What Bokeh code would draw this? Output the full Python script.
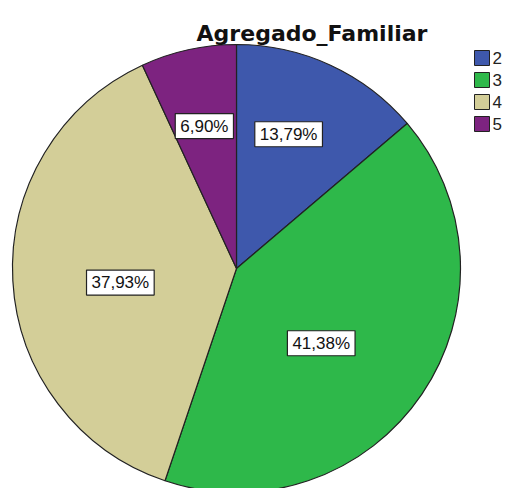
import math
from bokeh.plotting import figure
from bokeh.models import Range1d, Label, ColumnDataSource
from bokeh.core.properties import value
from bokeh.embed import file_html
from bokeh.resources import INLINE

# ---- data ----
title_text = "Agregado_Familiar"
categories = ["2", "3", "4", "5"]
percents = [13.79, 41.38, 37.93, 6.90]
colors = ["#3e58ac", "#2eb84a", "#d3ce98", "#7d2380"]

# ---- layout (pixel-like data space, y up) ----
W, H = 507, 488
IMG_H = 488

def iy(y_img):
    return IMG_H - y_img

cx, cy = 236, iy(268)
R = 224

p = figure(width=W, height=H, output_backend="svg", toolbar_location=None,
           x_range=Range1d(0, W), y_range=Range1d(0, H),
           min_border=0)
p.xaxis.visible = False
p.yaxis.visible = False
p.xgrid.grid_line_color = None
p.ygrid.grid_line_color = None
p.outline_line_color = None
p.background_fill_color = "white"
p.border_fill_color = "white"

total = sum(percents)
starts, ends, mids = [], [], []
cum = 0.0
for v in percents:
    a0 = math.pi / 2 - cum / total * 2 * math.pi
    cum += v
    a1 = math.pi / 2 - cum / total * 2 * math.pi
    starts.append(a0)
    ends.append(a1)
    mids.append((a0 + a1) / 2)

src = ColumnDataSource(dict(start=starts, end=ends, color=colors,
                            x=[cx] * 4, y=[cy] * 4))
p.wedge(x="x", y="y", radius=R, start_angle="start", end_angle="end",
        direction="clock", fill_color="color", line_color="#222222",
        line_width=1.2, source=src)

# percentage labels
label_r = [144, 113, 117, 146]
label_shift = [3.6, -7.3, 3.8, 0.3]  # degrees (counter-clockwise positive)
for v, m, r, s in zip(percents, mids, label_r, label_shift):
    a = m + math.radians(s)
    txt = ("%.2f" % v).replace(".", ",") + "%"
    p.add_layout(Label(x=cx + r * math.cos(a), y=cy + r * math.sin(a), text=txt,
                       text_align="center", text_baseline="middle",
                       text_font="Liberation Sans", text_font_size="17px",
                       text_color="#111111",
                       background_fill_color="white", background_fill_alpha=1.0,
                       border_line_color="#222222", border_line_width=1.2,
                       padding=(5, 3)))

# title
p.text(x=[311.5], y=[iy(33)], text=[title_text], text_align="center",
       text_baseline="alphabetic", text_font=value("DejaVu Sans"),
       text_font_style="bold", text_font_size="22px", text_color="#111111")

# legend
lx = 481.5
ly = [iy(57.5 + 22 * i) for i in range(len(categories))]
p.rect(x=[lx] * 4, y=ly, width=15, height=15, fill_color=colors,
       line_color="#222222", line_width=1)
p.text(x=[492] * 4, y=[yy for yy in ly], text=categories, text_align="left",
       text_baseline="middle", text_font=value("Liberation Sans"),
       text_font_size="17px", text_color="#222222")

open("out.html", "w").write(file_html(p, INLINE))
